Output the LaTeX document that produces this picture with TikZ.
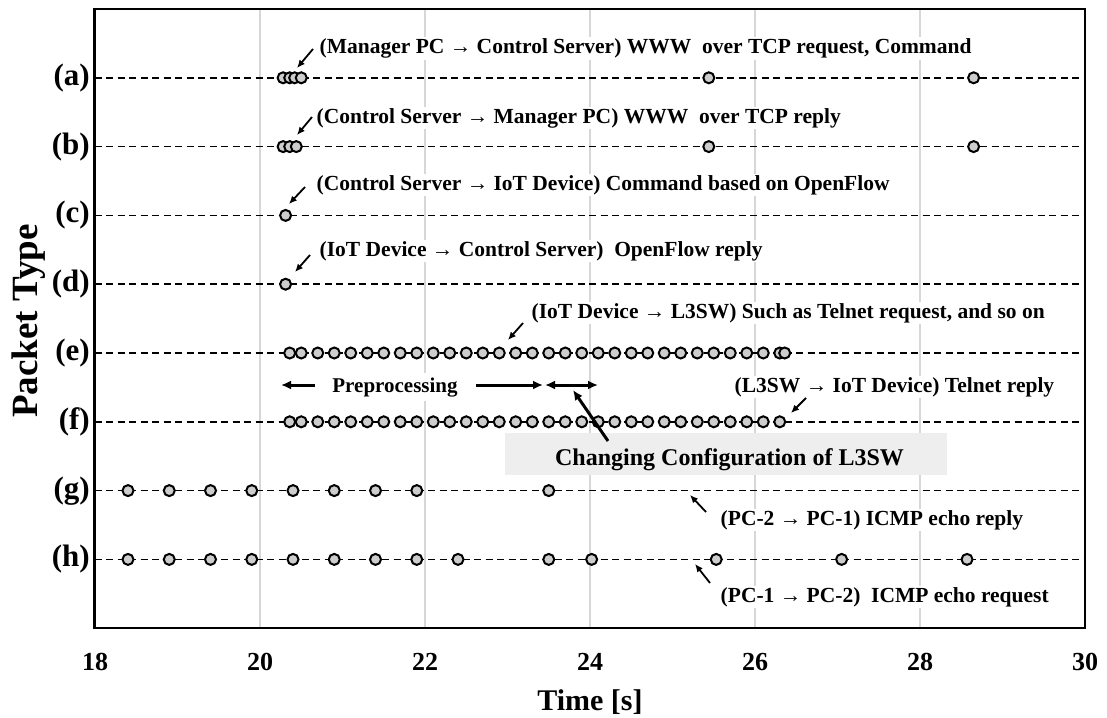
\documentclass[tikz,border=0pt]{standalone}
\usepackage{fontspec}
\setmainfont{Liberation Serif}
\usetikzlibrary{arrows.meta}
\definecolor{ptfill}{RGB}{205,205,205}
\definecolor{gridc}{RGB}{215,215,215}
\definecolor{boxc}{RGB}{238,238,238}
\tikzset{
  pkt/.style={circle, draw=black, line width=2pt, fill=ptfill, minimum size=11pt, inner sep=0pt},
  rowline/.style={dash pattern=on 7pt off 4.5pt, line width=1.6pt},
  gridln/.style={draw=gridc, line width=1.2pt},
  lbl/.style={anchor=base west, font=\fontsize{21.5}{24}\selectfont\bfseries, fill=white, inner sep=1.5pt},
  rowlbl/.style={anchor=base east, font=\fontsize{31}{34}\selectfont\bfseries, inner sep=0pt},
  ticklbl/.style={anchor=base, font=\fontsize{26}{30}\selectfont\bfseries, inner sep=0pt},
  note/.style={-{Latex[length=8pt,width=7pt]}, line width=1.8pt},
  bigarrow/.style={line width=3pt, -{Latex[length=10pt,width=9pt]}},
  bigdbl/.style={line width=3pt, {Latex[length=10pt,width=9pt]}-{Latex[length=10pt,width=9pt]}},
}
\newcommand\mypktrow[3]{\foreach \t [count=\i] in {#3} {\node[pkt] (#1\i) at ({95+(\t-18)*82.5},#2) {};}}
\begin{document}
\begin{tikzpicture}[x=1pt,y=-1pt]
\useasboundingbox (0,0) rectangle (1107,717);
% grid lines
\foreach \g [count=\j] in {20,22,24,26,28} {
  \coordinate (gt\j) at ({95+(\g-18)*82.5},9);
  \coordinate (gb\j) at ({95+(\g-18)*82.5},628);
  \draw[gridln] (gt\j) -- (gb\j);
}
% row dashed lines and row labels
\foreach \k/\n in {1/a,2/b,3/c,4/d,5/e,6/f,7/g,8/h} {
  \coordinate (rs\n) at (94.5,{9+68.8*\k});
  \coordinate (re\n) at (1085,{9+68.8*\k});
  \draw[rowline] (rs\n) -- (re\n);
  \node[rowlbl] (lab\n) at (90,{9+68.8*\k+7.5}) {(\n)};
}
% text labels
\node[lbl] (ta) at (318,53.5) {(Manager PC → Control Server) WWW \ over TCP request, Command};
\node[lbl] (tb) at (315,123) {(Control Server → Manager PC) WWW \ over TCP reply};
\node[lbl] (tc) at (315,190) {(Control Server → IoT Device) Command based on OpenFlow};
\node[lbl] (td) at (318,256) {(IoT Device → Control Server) \ OpenFlow reply};
\node[lbl] (te) at (530,318) {(IoT Device → L3SW) Such as Telnet request, and so on};
\node[lbl] (tf) at (733,392) {(L3SW → IoT Device) Telnet reply};
\node[lbl] (tg) at (719,525) {(PC-2 → PC-1) ICMP echo reply};
\node[lbl] (th) at (719,602) {(PC-1 → PC-2) \ ICMP echo request};
% configuration box
\node[fill=boxc, minimum width=442pt, minimum height=42pt, inner sep=0pt] (cfgbox) at (726,454) {};
\node[anchor=base, inner sep=0pt, font=\fontsize{24}{28}\selectfont\bfseries] (cfg) at (729.5,465) {Changing Configuration of L3SW};
% preprocessing
\node[anchor=base, fill=white, inner sep=4pt, font=\fontsize{21}{24}\selectfont\bfseries] (pre) at (395,392) {Preprocessing};
% packets
\mypktrow{a}{77.8}{20.28,20.36,20.42,20.5,25.44,28.65}
\mypktrow{b}{146.6}{20.28,20.36,20.44,25.44,28.65}
\mypktrow{c}{215.4}{20.31}
\mypktrow{d}{284.2}{20.31}
\node[pkt] (e0) at ({95+(20.36-18)*82.5},353) {};
\foreach \k in {0,...,29} {\node[pkt] (e\k x) at ({95+(20.5+0.2*\k-18)*82.5},353) {};}
\node[pkt] (eend) at ({95+(26.36-18)*82.5},353) {};
\node[pkt] (f0) at ({95+(20.36-18)*82.5},421.8) {};
\foreach \k in {0,...,29} {\node[pkt] (f\k x) at ({95+(20.5+0.2*\k-18)*82.5},421.8) {};}
\mypktrow{g}{490.6}{18.4,18.9,19.4,19.9,20.4,20.9,21.4,21.9,23.5}
\mypktrow{h}{559.4}{18.4,18.9,19.4,19.9,20.4,20.9,21.4,21.9,22.4,23.5,24.02,25.53,27.05,28.57}
% annotation arrows
\coordinate (na1) at (313,49);  \coordinate (na2) at (297,68);
\coordinate (nb1) at (312,117); \coordinate (nb2) at (297,135);
\coordinate (nc1) at (305,187); \coordinate (nc2) at (289,204);
\coordinate (nd1) at (310,255); \coordinate (nd2) at (295,272);
\coordinate (ne1) at (523,323); \coordinate (ne2) at (508,340);
\coordinate (nf1) at (806,398); \coordinate (nf2) at (791,413);
\coordinate (ng1) at (706,512); \coordinate (ng2) at (690,495);
\coordinate (nh1) at (710,583); \coordinate (nh2) at (695,564);
\foreach \n in {a,b,c,d,e,f,g,h} {\draw[note] (n\n1) -- (n\n2);}
% big arrows
\coordinate (pl1) at (315,385); \coordinate (pl2) at (281,385);
\coordinate (pr1) at (476,385); \coordinate (pr2) at (543,385);
\coordinate (cd1) at (545,385); \coordinate (cd2) at (598,385);
\coordinate (ct1) at (608,441); \coordinate (ct2) at (573,390);
\draw[bigarrow] (pl1) -- (pl2);
\draw[bigarrow] (pr1) -- (pr2);
\draw[bigdbl] (cd1) -- (cd2);
\draw[bigarrow] (ct1) -- (ct2);
% frame
\coordinate (fr1) at (94.5,9); \coordinate (fr2) at (1085,628);
\draw[line width=2.5pt] (fr1) rectangle (fr2);
% tick labels
\foreach \v [count=\j] in {18,20,22,24,26,28,30} {
  \node[ticklbl] (tk\j) at ({95+(\v-18)*82.5},670) {\v};
}
\node[anchor=base, inner sep=0pt, font=\fontsize{30}{34}\selectfont\bfseries] (xlab) at (590,710) {Time [s]};
\node[anchor=base, rotate=90, inner sep=0pt, font=\fontsize{37}{40}\selectfont\bfseries] (ylab) at (37,321) {Packet Type};
\end{tikzpicture}
\end{document}
